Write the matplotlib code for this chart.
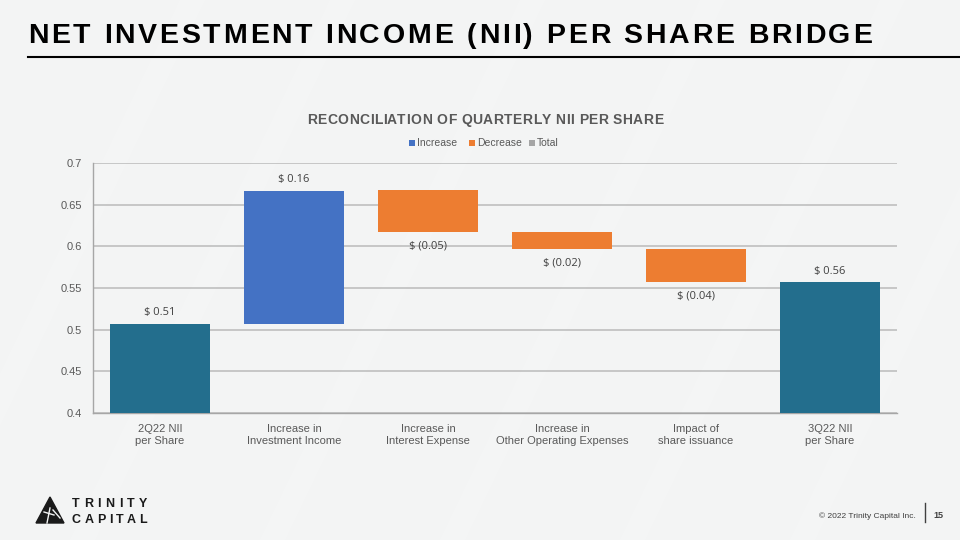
import matplotlib
matplotlib.use("Agg")
import matplotlib.pyplot as plt
from matplotlib.patches import Polygon, Rectangle
from matplotlib.lines import Line2D

# ---------------- data ----------------
categories = ["2Q22 NII\nper Share", "Increase in\nInvestment Income", "Increase in\nInterest Expense",
              "Increase in\nOther Operating Expenses", "Impact of\nshare issuance", "3Q22 NII\nper Share"]
start_value = 0.507
changes = [0.16, -0.05, -0.02, -0.04]
end_value = 0.557
value_labels = ["$ 0.51", "$ 0.16", "$ (0.05)", "$ (0.02)", "$ (0.04)", "$ 0.56"]
y_ticks = [0.4, 0.45, 0.5, 0.55, 0.6, 0.65, 0.7]
y_tick_labels = ["0.4", "0.45", "0.5", "0.55", "0.6", "0.65", "0.7"]
legend_labels = ["Increase", "Decrease", "Total"]

C_TOTAL = "#236E8D"
C_INC = "#4472C4"
C_DEC = "#ED7D31"
C_LEG_TOTAL = "#A5A5A5"
BG = "#F3F4F4"
GRAY_TXT = "#595959"

plt.rcParams['font.family'] = ['Liberation Sans', 'DejaVu Sans']

W, H = 960, 540
fig = plt.figure(figsize=(9.6, 5.4), dpi=100, facecolor=BG)
renderer = fig.canvas.get_renderer()


def px(x, y):
    return x / W, 1 - y / H


def spaced_text(x_left, y_base, s, x_right=None, spacing=0.0, **kw):
    """Draw text char by char (figure pixel coords), stretched to x_right if given."""
    widths = []
    for ch in s:
        if ch == " ":
            t2 = fig.text(0, 0, "n n", **kw)
            t3 = fig.text(0, 0, "nn", **kw)
            w = t2.get_window_extent(renderer).width - t3.get_window_extent(renderer).width
            t2.remove(); t3.remove()
        else:
            t = fig.text(0, 0, ch, **kw)
            w = t.get_window_extent(renderer).width
            t.remove()
        widths.append(w)
    natural = sum(widths)
    if x_right is not None and len(s) > 1:
        spacing = (x_right - x_left - natural) / (len(s) - 1)
    x = x_left
    for ch, w in zip(s, widths):
        fig.text(*px(x, y_base), ch, ha="left", va="baseline", **kw)
        x += w + spacing


# subtle diagonal background bands (behind everything)
for x0 in [180, 330, 520, 700, 880, 1050]:
    fig.add_artist(Polygon([px(x0, 0), px(x0 + 25, 0), px(x0 - 235, 540), px(x0 - 260, 540)],
                           closed=True, color="white", alpha=0.15, lw=0, zorder=-5,
                           transform=fig.transFigure))

# ---------------- slide title ----------------
spaced_text(28, 43, "NET INVESTMENT INCOME (NII) PER SHARE BRIDGE", x_right=872,
            fontsize=20.5, fontweight="bold", color="black")
fig.add_artist(Line2D([28 / W, 1.0], [1 - 57 / H, 1 - 57 / H], color="black", lw=1.5,
                      transform=fig.transFigure))

# ---------------- chart title ----------------
spaced_text(307, 124, "RECONCILIATION OF QUARTERLY NII PER SHARE", x_right=663,
            fontsize=10, fontweight="bold", color=GRAY_TXT)

# ---------------- axes ----------------
ax = fig.add_axes([93 / W, 1 - 413 / H, (897 - 93) / W, (413 - 163) / H])
ax.set_facecolor("none")
ax.set_xlim(-0.5, len(categories) - 0.5)
ax.set_ylim(0.4, 0.7)

bar_w = 0.746
ax.bar(0, start_value - 0.4, bottom=0.4, width=bar_w, color=C_TOTAL, zorder=3)
ax.bar(len(categories) - 1, end_value - 0.4, bottom=0.4, width=bar_w, color=C_TOTAL, zorder=3)
running = start_value
tops = [start_value]
bottoms = [0.4]
for i, c in enumerate(changes, start=1):
    lo, hi = (running, running + c) if c > 0 else (running + c, running)
    ax.bar(i, hi - lo, bottom=lo, width=bar_w, color=C_INC if c > 0 else C_DEC, zorder=3)
    tops.append(hi)
    bottoms.append(lo)
    running += c
tops.append(end_value)
bottoms.append(0.4)

label_font = dict(fontsize=8, color="#404040", family=["Open Sans", "DejaVu Sans"])
for i, lab in enumerate(value_labels):
    if i in (0, len(categories) - 1) or (1 <= i <= len(changes) and changes[i - 1] > 0):
        ax.annotate(lab, (i, tops[i]), xytext=(0, 4), textcoords="offset points",
                    ha="center", va="bottom", **label_font)
    else:
        ax.annotate(lab, (i, bottoms[i]), xytext=(0, -6), textcoords="offset points",
                    ha="center", va="top", **label_font)

ax.set_yticks(y_ticks)
ax.set_yticklabels(y_tick_labels)
ax.set_xticks(range(len(categories)))
ax.set_xticklabels(categories)
ax.tick_params(axis="both", length=0, labelsize=8, labelcolor=GRAY_TXT)
ax.tick_params(axis="x", pad=8)
ax.tick_params(axis="y", pad=8)
for lab in ax.get_xticklabels():
    lab.set_linespacing(1.25)
ax.grid(axis="y", color="#BFBFBF", lw=1.2, zorder=0)
for s in ["top", "right"]:
    ax.spines[s].set_visible(False)
for s in ["left", "bottom"]:
    ax.spines[s].set_color("#A6A6A6")
    ax.spines[s].set_linewidth(1.0)

# ---------------- legend ----------------
leg_items = [(409, legend_labels[0], C_INC), (469, legend_labels[1], C_DEC), (529, legend_labels[2], C_LEG_TOTAL)]
for x0, lab, col in leg_items:
    fig.add_artist(Rectangle(px(x0, 146), 6 / W, 6 / H, color=col, lw=0, transform=fig.transFigure))
    fig.text(*px(x0 + 8, 146), lab, fontsize=7.5, color=GRAY_TXT, ha="left", va="baseline")

# ---------------- logo ----------------
tri = Polygon([px(36, 523), px(50, 497), px(64, 523)], closed=True, color="#1A1A1A",
              transform=fig.transFigure)
fig.add_artist(tri)
for (xa, ya), (xb, yb) in [((44, 512), (54, 515)), ((50, 508), (47, 523)), ((53, 510), (60, 518))]:
    fig.add_artist(Line2D([xa / W, xb / W], [1 - ya / H, 1 - yb / H], color=BG, lw=1.0,
                          transform=fig.transFigure))
spaced_text(72, 507, "TRINITY", x_right=147, fontsize=9, fontweight="bold", color="#1A1A1A")
spaced_text(72, 523, "CAPITAL", x_right=147, fontsize=9, fontweight="bold", color="#1A1A1A")

# ---------------- footer ----------------
fig.text(*px(916, 518), "© 2022 Trinity Capital Inc.", fontsize=6, color="#404040", ha="right", va="baseline")
fig.add_artist(Line2D([925 / W, 925 / W], [1 - 503 / H, 1 - 522 / H], color="#404040", lw=1.0,
                      transform=fig.transFigure))
fig.text(*px(933, 518), "15", fontsize=6.5, fontweight="bold", color="#404040", ha="left", va="baseline")

fig.savefig("out.png", dpi=100, facecolor=BG)
